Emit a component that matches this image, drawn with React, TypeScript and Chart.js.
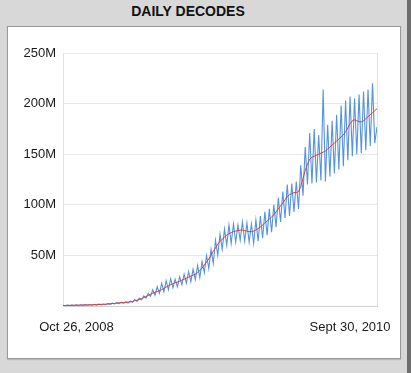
import { useEffect, useRef } from 'react';
import { Chart, registerables } from 'chart.js';

Chart.register(...registerables);

// Daily decodes (millions), sampled along the period, peaks and troughs of the weekly cycle
const DAILY: number[] = [
  0.8, 0.3, 0.9, 0.4, 1.0, 0.4, 1.1, 0.5, 1.2, 0.6, 1.3,
  0.7, 1.4, 0.8, 1.6, 0.9, 1.8, 1.1, 2.0, 1.3, 2.4,
  1.6, 2.8, 2.0, 3.3, 2.3, 3.8, 2.6, 4.3, 2.9, 5.0,
  3.6, 6.5, 4.6, 7.8, 6.0, 10.0, 7.8, 12.5, 9.5, 16.0,
  10.5, 19.0, 12.5, 22.5, 14.0, 25.0, 16.0, 27.0, 18.0, 26.5,
  19.0, 29.0, 21.0, 31.5, 22.5, 34.0, 24.0, 36.5, 26.0, 40.0,
  28.0, 44.0, 33.0, 50.0, 37.0, 56.0, 42.0, 65.0, 50.0, 71.0,
  56.0, 76.0, 60.0, 80.0, 62.0, 81.0, 63.0, 80.0, 65.0, 83.0,
  64.0, 82.0, 63.0, 81.0, 62.0, 85.0, 64.0, 89.0, 67.0, 93.0,
  70.0, 96.0, 73.0, 100.0, 78.0, 107.0, 83.0, 113.0, 87.0, 120.0,
  89.0, 121.0, 93.0, 123.0, 96.0, 139.0, 109.0, 157.0, 120.0, 171.0,
  121.0, 175.0, 122.0, 169.0, 124.0, 214.0, 123.0, 179.0, 128.0, 183.0,
  131.0, 189.0, 135.0, 198.0, 138.0, 203.0, 144.0, 207.0, 148.0, 205.0,
  150.0, 209.0, 151.0, 212.0, 154.0, 214.0, 158.0, 220.0, 161.0, 177.0,
];

// Smoothed trend (millions)
const TREND: number[] = [
  0.5, 0.5, 0.6, 0.6, 0.7, 0.7, 0.8, 0.8, 0.9, 0.9, 1.0,
  1.1, 1.1, 1.2, 1.3, 1.4, 1.5, 1.6, 1.7, 1.8, 2.0,
  2.2, 2.4, 2.6, 2.8, 3.0, 3.2, 3.4, 3.6, 3.8, 4.0,
  4.6, 5.2, 5.8, 6.4, 7.2, 8.2, 9.3, 10.4, 11.5, 12.6,
  13.5, 14.4, 15.3, 16.2, 17.5, 18.8, 20.0, 21.0, 22.0, 23.0,
  23.5, 24.5, 25.5, 26.5, 27.5, 28.5, 29.5, 30.5, 31.5, 33.0,
  35.0, 37.5, 40.5, 43.5, 46.5, 50.0, 54.0, 57.5, 61.0, 64.0,
  66.0, 68.0, 70.0, 71.5, 72.5, 73.5, 74.0, 74.5, 75.0, 75.0,
  74.5, 74.0, 73.5, 73.5, 74.0, 75.0, 76.5, 78.0, 80.0, 82.0,
  84.0, 86.0, 88.0, 90.0, 93.0, 96.0, 99.0, 102.0, 105.0, 108.0,
  110.0, 111.0, 112.0, 112.0, 113.0, 118.0, 126.0, 134.0, 140.0, 145.0,
  147.0, 148.0, 149.0, 150.0, 151.0, 152.0, 153.0, 155.0, 157.0, 159.0,
  161.0, 163.0, 165.0, 167.0, 169.0, 172.0, 176.0, 180.0, 183.0, 184.0,
  183.0, 182.0, 182.0, 183.0, 185.0, 187.0, 189.0, 191.0, 193.0, 195.0,
];

const X_LABELS: string[] = ['Oct 26, 2008', 'Sept 30, 2010'];
const X_LABEL_POS: number[] = [6, 128];
const Y_TICKS: number[] = [50, 100, 150, 200, 250];

const FONT = 'Helvetica, Arial, "Liberation Sans", sans-serif';

const boxPlugin = {
  id: 'plotBox',
  beforeDatasetsDraw(chart: any) {
    const { ctx, chartArea } = chart;
    ctx.save();
    ctx.strokeStyle = '#e2e2e2';
    ctx.lineWidth = 1;
    ctx.beginPath();
    ctx.moveTo(Math.round(chartArea.right) + 0.5, chartArea.top);
    ctx.lineTo(Math.round(chartArea.right) + 0.5, chartArea.bottom);
    ctx.stroke();
    ctx.restore();
  },
};

export default function App() {
  const ref = useRef<HTMLCanvasElement>(null);

  useEffect(() => {
    if (!ref.current) return;
    const chart = new Chart(ref.current, {
      type: 'line',
      data: {
        datasets: [
          {
            data: TREND.map((v, i) => ({ x: i, y: v })),
            borderColor: '#d04040',
            borderWidth: 1,
            pointRadius: 0,
            tension: 0,
          },
          {
            data: DAILY.map((v, i) => ({ x: i, y: v })),
            borderColor: '#5593de',
            borderWidth: 1.1,
            pointRadius: 0,
            tension: 0,
          },
        ],
      },
      options: {
        animation: false,
        responsive: false,
        layout: { padding: { top: 25, right: 23, left: 0, bottom: 0 } },
        plugins: { legend: { display: false }, tooltip: { enabled: false } },
        scales: {
          x: {
            type: 'linear',
            min: 0,
            max: TREND.length - 1,
            afterBuildTicks: (s: any) => {
              s.ticks = X_LABEL_POS.map((v) => ({ value: v }));
            },
            afterFit: (s: any) => {
              s.height = 51;
              s.paddingLeft = 0;
              s.paddingRight = 0;
            },
            ticks: {
              padding: 14,
              maxRotation: 0,
              autoSkip: false,
              font: { family: FONT, size: 13 },
              color: '#1a1a1a',
              callback: (_v: any, i: number) => X_LABELS[i],
            },
            grid: { display: false, drawTicks: false },
            border: { display: true, color: '#cfcfcf', width: 1 },
          },
          y: {
            min: 0,
            max: 250,
            afterBuildTicks: (s: any) => {
              s.ticks = Y_TICKS.map((v) => ({ value: v }));
            },
            afterFit: (s: any) => {
              s.width = 54;
            },
            ticks: {
              padding: 7,
              font: { family: FONT, size: 13 },
              color: '#1a1a1a',
              callback: (v: any) => v + 'M',
            },
            grid: { color: '#e8e8e8', drawTicks: false },
            border: { display: true, color: '#e2e2e2', width: 1 },
          },
        },
      },
      plugins: [boxPlugin],
    });
    return () => chart.destroy();
  }, []);

  return (
    <div
      style={{
        position: 'fixed',
        left: 0,
        top: 0,
        width: 411,
        height: 373,
        background: '#d8d8d8',
        overflow: 'hidden',
      }}
    >
      <div
        style={{
          position: 'absolute',
          left: 0,
          top: 2,
          width: 376,
          textAlign: 'center',
          font: `bold 14px ${FONT}`,
          color: '#111',
          lineHeight: '18px',
        }}
      >
        DAILY DECODES
      </div>
      <div
        style={{
          position: 'absolute',
          left: 7,
          top: 26,
          width: 394,
          height: 333,
          boxSizing: 'border-box',
          border: '1px solid #9a9a9a',
          background: '#fff',
          boxShadow: '0 1px 1px rgba(0,0,0,0.15)',
        }}
      />
      <canvas
        ref={ref}
        width={391}
        height={329}
        style={{ position: 'absolute', left: 9, top: 28, width: 391, height: 329, display: 'block' }}
      />
      <div
        style={{ position: 'absolute', left: 407, top: 0, width: 4, height: 373, background: '#6e6e6e' }}
      />
    </div>
  );
}
